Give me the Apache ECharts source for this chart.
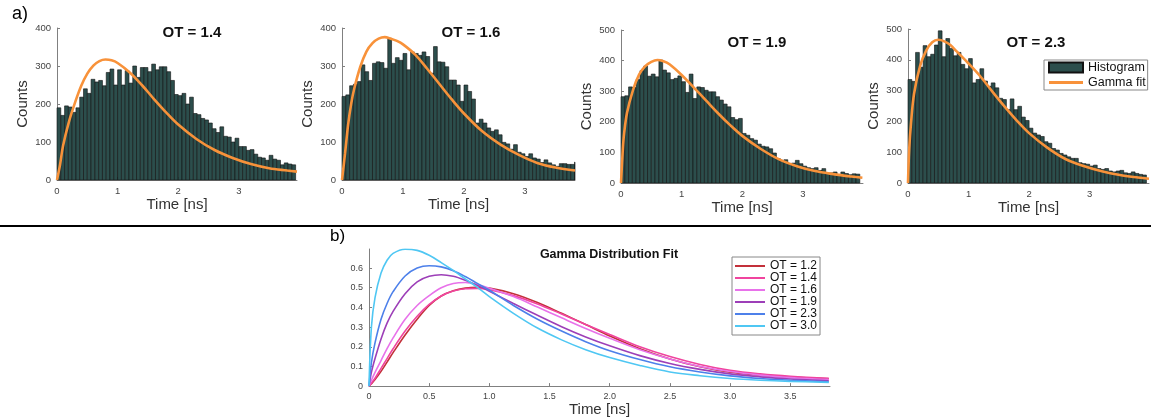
<!DOCTYPE html>
<html><head><meta charset="utf-8">
<script src="https://cdn.jsdelivr.net/npm/echarts@6/dist/echarts.min.js"></script>
<style>html,body{margin:0;padding:0;background:#fff}#c{width:1151px;height:418px}</style>
</head><body><div id="c"></div><script>
// ---------- data ----------
const BIN_W = 0.0625;
const HIST_TITLES = ['OT = 1.4', 'OT = 1.6', 'OT = 1.9', 'OT = 2.3'];
const HIST_14 = [190,170,195,192,178,190,218,240,228,265,258,262,248,283,292,250,290,250,288,255,300,270,296,296,285,305,290,298,298,285,262,225,222,228,200,218,175,172,162,158,150,135,125,140,115,113,100,110,88,88,78,80,68,60,58,52,65,55,52,40,45,42,40];
const HIST_16 = [220,224,248,252,259,303,285,262,307,311,309,294,373,307,322,315,333,290,337,333,328,337,325,281,351,311,310,298,263,263,250,207,250,233,213,150,160,150,137,128,132,119,99,95,81,93,73,69,62,69,58,55,46,53,45,40,36,43,43,41,41,47];
const HIST_19 = [282,285,314,312,338,367,382,349,356,347,402,369,360,338,342,350,331,296,356,276,314,312,303,298,298,282,271,258,249,214,207,211,162,156,145,140,127,120,118,112,98,80,74,76,61,65,74,63,55,50,47,50,41,47,31,33,36,28,36,31,27,30,29];
const HIST_23 = [336,330,424,376,446,410,418,448,494,410,469,437,413,424,385,371,404,325,336,371,331,314,325,309,275,271,238,273,238,249,214,203,178,162,156,151,134,129,112,107,96,91,85,80,80,66,63,61,55,58,47,44,47,39,36,39,41,33,31,36,31,28,26];

const FIT_X_14 = [0,0.05,0.1,0.2,0.3,0.4,0.5,0.6,0.7,0.8,0.9,1.0,1.2,1.4,1.6,1.8,2.0,2.3,2.6,2.9,3.2,3.5,3.8,3.96];
const FIT_Y_14 = [0,40,90,155,205,248,280,301,313,317,315,308,283,250,213,178,146,108,79,58,42,31,25,22];
const FIT_X_16 = [0,0.05,0.1,0.15,0.2,0.3,0.4,0.5,0.6,0.7,0.8,0.9,1.0,1.2,1.4,1.6,1.8,2.0,2.3,2.6,2.9,3.2,3.5,3.82];
const FIT_Y_16 = [0,70,145,200,240,298,338,360,372,376,372,366,357,330,292,252,212,175,128,93,66,45,33,25];
const FIT_X_19 = [0,0.03,0.05,0.1,0.2,0.3,0.4,0.5,0.6,0.7,0.8,1.0,1.2,1.4,1.6,1.8,2.0,2.3,2.6,2.9,3.2,3.5,3.8,3.98];
const FIT_Y_19 = [0,110,160,230,305,355,382,396,402,398,388,353,312,270,228,189,154,112,78,55,39,29,21,17];
const FIT_X_23 = [0,0.02,0.05,0.1,0.2,0.3,0.4,0.5,0.6,0.7,0.8,1.0,1.2,1.4,1.6,1.8,2.0,2.3,2.6,2.9,3.2,3.5,3.8,3.98];
const FIT_Y_23 = [0,110,195,290,380,430,457,465,460,448,428,388,345,295,247,202,162,115,78,55,38,26,18,14];

const HIST_X_TICKS = [0, 1, 2, 3];
const HIST_Y_MAX = [400, 400, 500, 500];
const HIST_X_MAX = [3.96, 3.82, 3.99, 3.98];

const B_TITLE = 'Gamma Distribution Fit';
const B_NAMES = ['OT = 1.2', 'OT = 1.4', 'OT = 1.6', 'OT = 1.9', 'OT = 2.3', 'OT = 3.0'];
const B_X = [0,0.02,0.05,0.1,0.15,0.2,0.3,0.4,0.5,0.6,0.7,0.8,0.9,1.0,1.2,1.4,1.6,1.8,2.0,2.25,2.5,2.75,3.0,3.25,3.5,3.82];
const B_12 = [0,0.012,0.033,0.075,0.122,0.17,0.26,0.34,0.41,0.458,0.485,0.498,0.502,0.498,0.47,0.425,0.37,0.313,0.255,0.19,0.138,0.098,0.07,0.056,0.046,0.037];
const B_14 = [0,0.015,0.04,0.09,0.14,0.19,0.28,0.355,0.415,0.458,0.483,0.495,0.497,0.49,0.46,0.418,0.366,0.313,0.262,0.2,0.15,0.11,0.08,0.062,0.05,0.04];
const B_16 = [0,0.03,0.07,0.13,0.19,0.245,0.34,0.41,0.46,0.5,0.522,0.527,0.516,0.498,0.455,0.402,0.347,0.293,0.243,0.185,0.138,0.1,0.074,0.056,0.043,0.033];
const B_19 = [0,0.07,0.14,0.24,0.32,0.38,0.47,0.53,0.558,0.566,0.558,0.538,0.512,0.482,0.42,0.36,0.302,0.25,0.205,0.155,0.115,0.085,0.062,0.047,0.036,0.027];
const B_23 = [0,0.12,0.22,0.34,0.42,0.48,0.56,0.6,0.612,0.606,0.587,0.557,0.522,0.487,0.41,0.34,0.28,0.226,0.18,0.135,0.098,0.072,0.052,0.039,0.03,0.022];
const B_30 = [0,0.3,0.45,0.575,0.64,0.675,0.696,0.69,0.665,0.628,0.588,0.545,0.502,0.455,0.37,0.295,0.235,0.185,0.145,0.105,0.072,0.053,0.039,0.03,0.024,0.019];
const B_X_TICKS = [0,0.5,1.0,1.5,2.0,2.5,3.0,3.5];
const B_Y_TICKS = [0,0.1,0.2,0.3,0.4,0.5,0.6];

// ---------- styling / layout ----------
const FONT = 'Liberation Sans, Arial, Helvetica, sans-serif';
const BAR_FILL = '#2c4e4c';
const BAR_EDGE = '#111';
const ORANGE = '#f8923a';
const AX = '#808080';
const B_COLORS = ['#c3303a', '#f0449e', '#e872ea', '#9d3fb8', '#4d80ea', '#4fc7f3'];
const GRIDS = [
  {left: 57, top: 28, width: 240, height: 152},
  {left: 342, top: 28, width: 233, height: 152},
  {left: 621, top: 30, width: 242, height: 153},
  {left: 908, top: 29, width: 241, height: 154},
  {left: 369, top: 249, width: 461, height: 139}
];
const TITLE_POS = [[187, 20], [466, 20], [752, 30], [1031, 30]];

const HISTS = [HIST_14, HIST_16, HIST_19, HIST_23];
const FITS = [[FIT_X_14, FIT_Y_14], [FIT_X_16, FIT_Y_16], [FIT_X_19, FIT_Y_19], [FIT_X_23, FIT_Y_23]];
const B_YS = [B_12, B_14, B_16, B_19, B_23, B_30];

function renderBin(params, api) {
  const a = api.coord([api.value(0), api.value(2)]);
  const b = api.coord([api.value(1), 0]);
  const cs = params.coordSys;
  const shape = echarts.graphic.clipRectByRect(
    {x: a[0], y: a[1], width: b[0] - a[0], height: b[1] - a[1]},
    {x: cs.x, y: cs.y, width: cs.width, height: cs.height});
  return shape && {type: 'rect', shape: shape, style: {fill: BAR_FILL, stroke: BAR_EDGE, lineWidth: 0.6}};
}

const xAxes = [], yAxes = [], series = [], titles = [];
for (let i = 0; i < 4; i++) {
  xAxes.push({
    type: 'value', gridIndex: i, min: 0, max: HIST_X_MAX[i],
    name: 'Time [ns]', nameLocation: 'middle', nameGap: 15,
    nameTextStyle: {fontSize: 15, color: '#333', fontFamily: FONT},
    axisLine: {show: true, lineStyle: {color: AX}},
    axisTick: {show: true, inside: true, length: 3, customValues: HIST_X_TICKS, lineStyle: {color: AX}},
    axisLabel: {customValues: HIST_X_TICKS, fontSize: 9.5, color: '#444', margin: 6, fontFamily: FONT},
    splitLine: {show: false}
  });
  yAxes.push({
    type: 'value', gridIndex: i, min: 0, max: HIST_Y_MAX[i], interval: 100,
    name: 'Counts', nameLocation: 'middle', nameRotate: 90, nameGap: 27,
    nameTextStyle: {fontSize: 15, color: '#333', fontFamily: FONT},
    axisLine: {show: true, lineStyle: {color: AX}},
    axisTick: {show: true, inside: true, length: 3, lineStyle: {color: AX}},
    axisLabel: {fontSize: 9.5, color: '#444', margin: 6, fontFamily: FONT},
    splitLine: {show: false}
  });
  series.push({
    type: 'custom', name: 'Histogram', xAxisIndex: i, yAxisIndex: i,
    renderItem: renderBin, encode: {x: [0, 1], y: 2},
    itemStyle: {color: BAR_FILL, borderColor: BAR_EDGE, borderWidth: 1},
    data: HISTS[i].map((c, k) => [k * BIN_W, (k + 1) * BIN_W, c]), z: 2
  });
  series.push({
    type: 'line', name: 'Gamma fit', xAxisIndex: i, yAxisIndex: i,
    data: FITS[i][0].map((x, k) => [x, FITS[i][1][k]]),
    smooth: 0.35, symbol: 'none', showSymbol: false, clip: true,
    lineStyle: {color: ORANGE, width: 2.6}, itemStyle: {color: ORANGE}, z: 3
  });
  titles.push({
    text: HIST_TITLES[i], left: TITLE_POS[i][0], top: TITLE_POS[i][1], textAlign: 'center',
    textStyle: {fontSize: 15, fontWeight: 'bold', color: '#111', fontFamily: FONT}
  });
}
xAxes.push({
  type: 'value', gridIndex: 4, min: 0, max: 3.83,
  name: 'Time [ns]', nameLocation: 'middle', nameGap: 14,
  nameTextStyle: {fontSize: 15, color: '#333', fontFamily: FONT},
  axisLine: {show: true, lineStyle: {color: AX}},
  axisTick: {show: true, inside: true, length: 3, customValues: B_X_TICKS, lineStyle: {color: AX}},
  axisLabel: {customValues: B_X_TICKS, fontSize: 9, color: '#444', margin: 6, fontFamily: FONT,
    formatter: v => v === 0 ? '0' : v.toFixed(1)},
  splitLine: {show: false}
});
yAxes.push({
  type: 'value', gridIndex: 4, min: 0, max: 0.697,
  axisLine: {show: true, lineStyle: {color: AX}},
  axisTick: {show: true, inside: true, length: 3, customValues: B_Y_TICKS, lineStyle: {color: AX}},
  axisLabel: {customValues: B_Y_TICKS, fontSize: 9, color: '#444', margin: 6, fontFamily: FONT,
    formatter: v => v === 0 ? '0' : v.toFixed(1)},
  splitLine: {show: false}
});
B_NAMES.forEach((n, j) => {
  series.push({
    type: 'line', name: n, xAxisIndex: 4, yAxisIndex: 4,
    data: B_X.map((x, k) => [x, B_YS[j][k]]),
    smooth: 0.35, symbol: 'none', showSymbol: false, clip: true,
    lineStyle: {color: B_COLORS[j], width: 1.6}, itemStyle: {color: B_COLORS[j]}, z: 3 + j
  });
});
titles.push({
  text: B_TITLE, left: 604, top: 243, textAlign: 'center',
  textStyle: {fontSize: 12.5, fontWeight: 'bold', color: '#111', fontFamily: FONT}
});

const LINE_ICON_B = 'path://M0,0H60V4H0Z';
const LINE_ICON_A = 'path://M0,0H68V6H0Z';
const option = {
  animation: false,
  backgroundColor: '#fff',
  textStyle: {fontFamily: FONT},
  title: titles,
  grid: GRIDS,
  xAxis: xAxes,
  yAxis: yAxes,
  legend: [
    {
      left: 1044, top: 60, orient: 'vertical', selectedMode: false,
      data: [{name: 'Histogram', icon: 'rect'}, {name: 'Gamma fit', icon: LINE_ICON_A}],
      itemWidth: 34, itemHeight: 10, itemGap: 2, padding: [1, 2, 1, 4], symbolKeepAspect: true,
      borderColor: '#888', borderWidth: 1, backgroundColor: '#fff',
      textStyle: {fontSize: 12.5, color: '#111', fontFamily: FONT}
    },
    {
      left: 732, top: 257, orient: 'vertical', selectedMode: false, symbolKeepAspect: true,
      data: B_NAMES.map(n => ({name: n, icon: LINE_ICON_B})),
      itemWidth: 30, itemHeight: 11, itemGap: 0, padding: [3, 3, 3, 3],
      borderColor: '#888', borderWidth: 1, backgroundColor: '#fff',
      textStyle: {fontSize: 12, color: '#111', fontFamily: FONT}
    }
  ],
  graphic: [
    {type: 'line', shape: {x1: 0, y1: 226, x2: 1151, y2: 226}, style: {stroke: '#000', lineWidth: 2}},
    {type: 'text', left: 12, top: 5, style: {text: 'a)', font: '18px ' + FONT, fill: '#000'}},
    {type: 'text', left: 330, top: 228, style: {text: 'b)', font: '17px ' + FONT, fill: '#000'}}
  ],
  series: series
};
const chart = echarts.init(document.getElementById('c'), null, {renderer: 'canvas'});
chart.setOption(option);
</script></body></html>
